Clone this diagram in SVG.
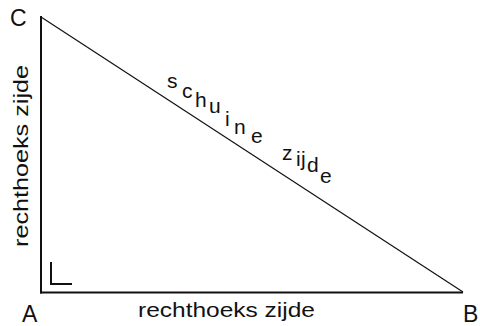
<svg xmlns="http://www.w3.org/2000/svg" width="480" height="326" viewBox="0 0 480 326">
<style>
.side{stroke:#111;fill:none}
.lbl{font-family:"Liberation Sans",Arial,sans-serif;font-size:23px;fill:#111}
.side-lbl{font-family:"Liberation Sans",Arial,sans-serif;font-size:21px;fill:#111}
.hyp{font-family:"Liberation Sans",Arial,sans-serif;font-size:21px;fill:#111}
</style>
<rect width="480" height="326" fill="#fff"/>
<g id="connectors">
<line class="side" x1="41" y1="16" x2="41" y2="293.5" stroke-width="2"/>
<line class="side" x1="40" y1="292.5" x2="463" y2="292.5" stroke-width="2"/>
<line class="side" x1="41" y1="17" x2="463" y2="292" stroke-width="1.2"/>
<path class="side" d="M51 262 V284 H72" stroke-width="2"/>
</g>
<g id="C"><text class="lbl" x="10" y="26">C</text></g>
<g id="A"><text class="lbl" x="22" y="322">A</text></g>
<g id="B"><text class="lbl" x="463" y="322">B</text></g>
<g id="label-bottom"><text class="side-lbl" x="138" y="317" textLength="177" lengthAdjust="spacingAndGlyphs">rechthoeks zijde</text></g>
<g id="label-left"><text class="side-lbl" transform="translate(28,247) rotate(-90)" x="0" y="0" textLength="182" lengthAdjust="spacingAndGlyphs">rechthoeks zijde</text></g>
<g id="label-hyp">
<text class="hyp"><tspan x="167" y="88">s</tspan><tspan x="182" y="98">c</tspan><tspan x="195" y="107">h</tspan><tspan x="209" y="113">u</tspan><tspan x="225" y="126">i</tspan><tspan x="234" y="134">n</tspan><tspan x="251" y="143">e</tspan><tspan x="282" y="160">z</tspan><tspan x="296" y="166">i</tspan><tspan x="301" y="166">j</tspan><tspan x="307" y="172">d</tspan><tspan x="320" y="183">e</tspan></text>
</g>
</svg>
